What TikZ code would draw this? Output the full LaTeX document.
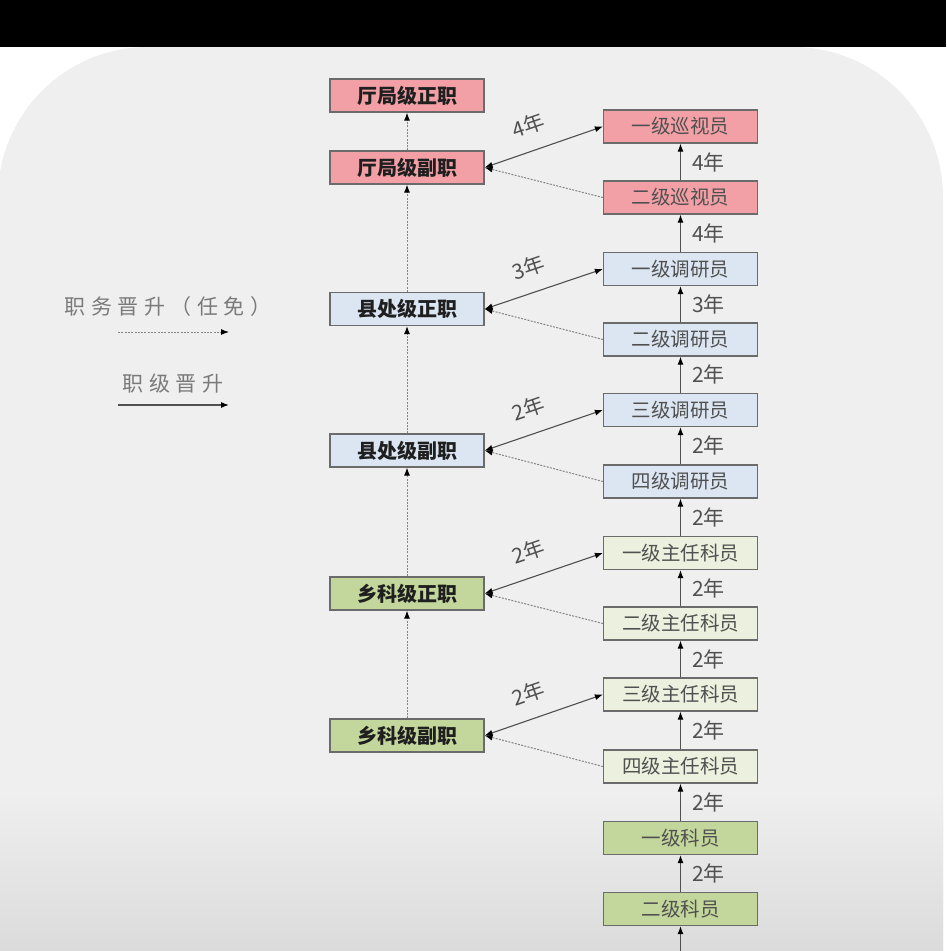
\documentclass[tikz,border=0pt]{standalone}
\usepackage{fontspec}
\usetikzlibrary{arrows.meta}
\newfontfamily\cjk{Noto Sans CJK SC}
\definecolor{bggray}{HTML}{EFEFEF}
\definecolor{bgdark}{HTML}{DADADA}
\definecolor{pinkc}{HTML}{F2A0A6}
\definecolor{bluec}{HTML}{DCE6F2}
\definecolor{greenl}{HTML}{EBF1DE}
\definecolor{greend}{HTML}{C3D69B}
\definecolor{bordc}{HTML}{6B6B6B}
\definecolor{linec}{HTML}{505050}
\definecolor{dotc}{HTML}{858585}
\definecolor{txtc}{HTML}{505050}
\definecolor{legc}{HTML}{7A7A7A}
\tikzset{
  box/.style={draw=bordc, line width=1.2pt, minimum width=154pt, minimum height=33pt, inner sep=0pt,
    font=\cjk\fontsize{19.5}{19.5}\selectfont, text=txtc},
  lbox/.style={box, font=\cjk\bfseries\fontsize{20}{20}\selectfont, text=black!88},
  pinkbox/.style={fill=pinkc},
  bluebox/.style={fill=bluec},
  greenlbox/.style={fill=greenl},
  greendbox/.style={fill=greend},
  solidarr/.style={draw=linec, line width=1.1pt, -{Latex[length=8pt,width=6pt,color=black]}},
  botharr/.style={draw=linec, line width=1.1pt, {Latex[length=8pt,width=6pt,color=black]}-{Latex[length=8pt,width=6pt,color=black]}},
  dotarr/.style={draw=dotc, line width=1pt, dash pattern=on 2pt off 1.3pt, -{Latex[length=8pt,width=6pt,color=black]}},
  yrlab/.style={font=\cjk\fontsize{21}{21}\selectfont, text=txtc, inner sep=1pt},
  dlab/.style={yrlab, sloped, above=14pt, pos=0.44},
  leg/.style={font=\cjk\fontsize{21}{21}\selectfont, text=legc, inner sep=0pt},
}
\newcommand{\lsp}{\kern5.5pt}
\begin{document}
\begin{tikzpicture}[x=1pt,y=-1pt]
\useasboundingbox (0,0) rectangle (946,951);
% background
\fill[white] (0,0) rectangle (946,951);
\begin{scope}
\clip (0,0) rectangle (946,951);
\fill[bggray, rounded corners=150pt] (-2,47) rectangle (943,1200);
\shade[top color=bggray, bottom color=bgdark] (-2,790) rectangle (943,960);
\end{scope}
\fill[black] (0,0) rectangle (946,47);

% left column
\node[lbox, pinkbox] (l1) at (407,95.5) {厅局级正职};
\node[lbox, pinkbox] (l2) at (407,167.5) {厅局级副职};
\node[lbox, bluebox] (l3) at (407,309) {县处级正职};
\node[lbox, bluebox] (l4) at (407,450.5) {县处级副职};
\node[lbox, greendbox] (l5) at (407,593.5) {乡科级正职};
\node[lbox, greendbox] (l6) at (407,735.5) {乡科级副职};

% right column
\node[box, pinkbox] (r1) at (680.5,126.5) {一级巡视员};
\node[box, pinkbox] (r2) at (680.5,197.5) {二级巡视员};
\node[box, bluebox] (r3) at (680.5,269) {一级调研员};
\node[box, bluebox] (r4) at (680.5,339.5) {二级调研员};
\node[box, bluebox] (r5) at (680.5,410) {三级调研员};
\node[box, bluebox] (r6) at (680.5,481.5) {四级调研员};
\node[box, greenlbox] (r7) at (680.5,553) {一级主任科员};
\node[box, greenlbox] (r8) at (680.5,623.5) {二级主任科员};
\node[box, greenlbox] (r9) at (680.5,694.5) {三级主任科员};
\node[box, greenlbox] (r10) at (680.5,766.5) {四级主任科员};
\node[box, greendbox] (r11) at (680.5,838) {一级科员};
\node[box, greendbox] (r12) at (680.5,909) {二级科员};

% left dotted verticals
\draw[dotarr] (l2.north) -- (l1.south);
\draw[dotarr] (l3.north) -- (l2.south);
\draw[dotarr] (l4.north) -- (l3.south);
\draw[dotarr] (l5.north) -- (l4.south);
\draw[dotarr] (l6.north) -- (l5.south);

% right solid verticals
\draw[solidarr] (r2.north) -- node[yrlab, right=10pt] {4年} (r1.south);
\draw[solidarr] (r3.north) -- node[yrlab, right=10pt] {4年} (r2.south);
\draw[solidarr] (r4.north) -- node[yrlab, right=10pt] {3年} (r3.south);
\draw[solidarr] (r5.north) -- node[yrlab, right=10pt] {2年} (r4.south);
\draw[solidarr] (r6.north) -- node[yrlab, right=10pt] {2年} (r5.south);
\draw[solidarr] (r7.north) -- node[yrlab, right=10pt] {2年} (r6.south);
\draw[solidarr] (r8.north) -- node[yrlab, right=10pt] {2年} (r7.south);
\draw[solidarr] (r9.north) -- node[yrlab, right=10pt] {2年} (r8.south);
\draw[solidarr] (r10.north) -- node[yrlab, right=10pt] {2年} (r9.south);
\draw[solidarr] (r11.north) -- node[yrlab, right=10pt] {2年} (r10.south);
\draw[solidarr] (r12.north) -- node[yrlab, right=10pt] {2年} (r11.south);
\coordinate (bot) at (680.5,965);
\draw[solidarr] (bot) -- (r12.south);

% diagonals
\draw[botharr] (l2.east) -- node[dlab] {4年} (r1.west);
\draw[dotarr] (r2.west) -- (l2.east);
\draw[botharr] (l3.east) -- node[dlab] {3年} (r3.west);
\draw[dotarr] (r4.west) -- (l3.east);
\draw[botharr] (l4.east) -- node[dlab] {2年} (r5.west);
\draw[dotarr] (r6.west) -- (l4.east);
\draw[botharr] (l5.east) -- node[dlab] {2年} (r7.west);
\draw[dotarr] (r8.west) -- (l5.east);
\draw[botharr] (l6.east) -- node[dlab] {2年} (r9.west);
\draw[dotarr] (r10.west) -- (l6.east);

% legend
\node[leg] (legA) at (168,307) {职\lsp 务\lsp 晋\lsp 升\lsp （\lsp 任\lsp 免\lsp ）};
\coordinate (legA1) at (118,332);
\coordinate (legA2) at (229,332);
\draw[dotarr] (legA1) -- (legA2);
\node[leg] (legB) at (173,384) {职\lsp 级\lsp 晋\lsp 升};
\coordinate (legB1) at (118,405);
\coordinate (legB2) at (229,405);
\draw[solidarr] (legB1) -- (legB2);
\end{tikzpicture}
\end{document}
